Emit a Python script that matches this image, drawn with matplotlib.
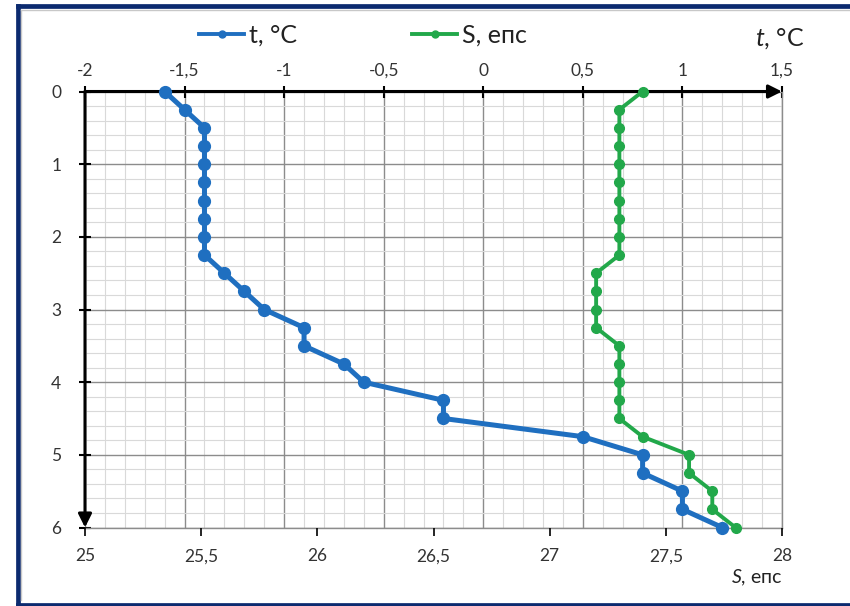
import matplotlib
matplotlib.use("Agg")
import matplotlib.pyplot as plt
from matplotlib.lines import Line2D
import numpy as np

plt.rcParams['font.family'] = ['Lato', 'DejaVu Sans']
plt.rcParams['mathtext.fontset'] = 'custom'
plt.rcParams['mathtext.rm'] = 'Lato'
plt.rcParams['mathtext.it'] = 'Lato:italic'

# ---- data ----
depth = [0, 0.25, 0.5, 0.75, 1, 1.25, 1.5, 1.75, 2, 2.25, 2.5, 2.75, 3,
         3.25, 3.5, 3.75, 4, 4.25, 4.5, 4.75, 5, 5.25, 5.5, 5.75, 6]
temperature = [-1.6, -1.5, -1.4, -1.4, -1.4, -1.4, -1.4, -1.4, -1.4, -1.4,
               -1.3, -1.2, -1.1, -0.9, -0.9, -0.7, -0.6, -0.2, -0.2, 0.5,
               0.8, 0.8, 1.0, 1.0, 1.2]
salinity = [27.4, 27.3, 27.3, 27.3, 27.3, 27.3, 27.3, 27.3, 27.3, 27.3,
            27.2, 27.2, 27.2, 27.2, 27.3, 27.3, 27.3, 27.3, 27.3, 27.4,
            27.6, 27.6, 27.7, 27.7, 27.8]

t_ticks = [-2, -1.5, -1, -0.5, 0, 0.5, 1, 1.5]
t_labels = ['-2', '-1,5', '-1', '-0,5', '0', '0,5', '1', '1,5']
s_ticks = [25, 25.5, 26, 26.5, 27, 27.5, 28]
s_labels = ['25', '25,5', '26', '26,5', '27', '27,5', '28']
d_ticks = [0, 1, 2, 3, 4, 5, 6]
d_labels = ['0', '1', '2', '3', '4', '5', '6']

blue = '#1F6FC0'
green = '#22A84A'
W, H = 850, 606

fig = plt.figure(figsize=(8.5, 6.06), dpi=100)


def fig_line(xs, ys, **kw):
    fig.add_artist(Line2D([x / W for x in xs], [1 - y / H for y in ys],
                          transform=fig.transFigure, **kw))


# frame borders (outer navy, inner light gray)
navy = dict(color='#0B2A6F', lw=3.4, solid_capstyle='projecting')
fig_line([17.5, 17.5], [5.5, 604.5], **navy)
fig_line([17.5, 860], [5.5, 5.5], **navy)
fig_line([17.5, 860], [604.5, 604.5], **navy)
gray = dict(color='#C8C8C8', lw=1.0)
fig_line([21, 21], [9.5, 600], **gray)
fig_line([21, 860], [9.5, 9.5], **gray)

left, right, top, bottom = 85, 782, 91.5, 527.5
ax = fig.add_axes([left / W, 1 - bottom / H, (right - left) / W, (bottom - top) / H])
ax.set_xlim(-2, 1.5)
ax.set_ylim(6, 0)
ax.set_axisbelow(True)

# salinity axis (twin, bottom)
ax2 = ax.twiny()
ax2.set_xlim(25, 28)
ax2.set_ylim(6, 0)
ax2.xaxis.set_ticks_position('bottom')
ax2.xaxis.set_label_position('bottom')
ax2.set_xticks(s_ticks)
ax2.set_xticklabels(s_labels)
ax2.tick_params(axis='x', direction='out', length=6, width=1.2, pad=9,
                labelsize=12.5, labelcolor='#333333', color='k')
for s in ax2.spines.values():
    s.set_visible(False)

# temperature axis (top) and depth axis
ax.xaxis.set_ticks_position('top')
ax.xaxis.set_label_position('top')
ax.set_xticks(t_ticks)
ax.set_xticklabels(t_labels)
ax.set_xticks(np.arange(-2, 1.51, 0.1), minor=True)
ax.set_yticks(d_ticks)
ax.set_yticklabels(d_labels)
ax.set_yticks(np.arange(0, 6.01, 0.2), minor=True)
ax.grid(which='minor', color='#D9D9D9', lw=0.8)
ax.grid(which='major', color='#8C8C8C', lw=1.0)
ax.tick_params(which='minor', length=0)
ax.tick_params(axis='x', which='major', direction='inout', length=8, width=1.5,
               pad=5, labelsize=12.5, labelcolor='#333333', color='k')
ax.tick_params(axis='y', which='major', direction='inout', length=8, width=1.5,
               pad=13, labelsize=12.5, labelcolor='#333333', color='k')
for s in ['top', 'left']:
    ax.spines[s].set_visible(False)
for s in ['right', 'bottom']:
    ax.spines[s].set_color('#8C8C8C')
    ax.spines[s].set_linewidth(1.0)

# axis arrows
ax.annotate('', xy=(1.0, 1.0), xytext=(0, 1.0), xycoords='axes fraction',
            textcoords='axes fraction',
            arrowprops=dict(arrowstyle='-|>', color='k', lw=2.2,
                            mutation_scale=20, shrinkA=0, shrinkB=0),
            zorder=3, annotation_clip=False)
ax.annotate('', xy=(0, 0.0), xytext=(0, 1.0), xycoords='axes fraction',
            textcoords='axes fraction',
            arrowprops=dict(arrowstyle='-|>', color='k', lw=2.2,
                            mutation_scale=20, shrinkA=0, shrinkB=0),
            zorder=3, annotation_clip=False)

ax.plot(temperature, depth, color=blue, lw=3.6, marker='o', ms=8.5,
        zorder=4, clip_on=False)
ax2.plot(salinity, depth, color=green, lw=2.8, marker='o', ms=7,
         zorder=5, clip_on=False)

# axis titles
fig.text(780 / W, 1 - 39 / H, '$t$, °C', ha='center', va='center',
         fontsize=18, color='#222222')
fig.text(757 / W, 1 - 578 / H, '$S$, епс', ha='center', va='center',
         fontsize=14, color='#222222')

# legend
handles = [Line2D([], [], color=blue, lw=2.8, marker='o', ms=5),
           Line2D([], [], color=green, lw=2.8, marker='o', ms=5)]
fig.legend(handles, ['t, °C', 'S, епс'], loc='center', ncol=2,
           bbox_to_anchor=(363 / W, 1 - 35 / H), frameon=False,
           fontsize=18, handlelength=1.8, handletextpad=0.2,
           columnspacing=4.6, labelcolor='#222222')

fig.savefig('out.png', dpi=100)
